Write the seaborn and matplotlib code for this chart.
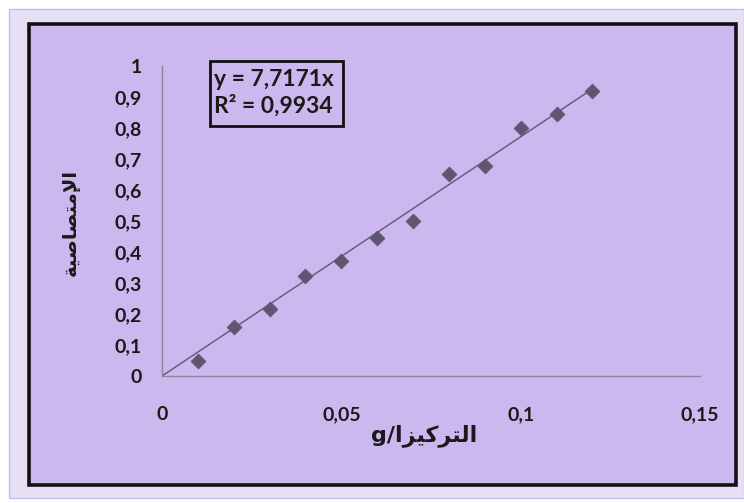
import matplotlib
matplotlib.use("Agg")
import matplotlib.pyplot as plt
from matplotlib.patches import Rectangle
import numpy as np
import pandas as pd
import seaborn as sns

# Concentration (g/l) and measured absorbance
concentration = [0.01, 0.02, 0.03, 0.04, 0.05, 0.06, 0.07, 0.08, 0.09, 0.10, 0.11, 0.12]
absorbance = [0.047, 0.158, 0.217, 0.322, 0.371, 0.445, 0.500, 0.652, 0.677, 0.800, 0.845, 0.918]

# Linear fit through the origin, as stated in the equation box
slope = 7.7171
r_squared = 0.9934

x_ticks = [0, 0.05, 0.10, 0.15]
x_tick_labels = ["0", "0,05", "0,1", "0,15"]
y_ticks = [0, 0.1, 0.2, 0.3, 0.4, 0.5, 0.6, 0.7, 0.8, 0.9, 1.0]
y_tick_labels = ["0", "0,1", "0,2", "0,3", "0,4", "0,5", "0,6", "0,7", "0,8", "0,9", "1"]

# Arabic labels written in visual order with presentation forms
x_label = "g/\uFE8D\uFEB0\uFEF4\uFEDB\uFEAE\uFE98\uFEDF\uFE8D"
y_label = "\uFE94\uFEF4\uFEBB\uFE8E\uFEBC\uFE98\uFEE3\uFEF9\uFE8D"

sns.set_theme(style="white")
plt.rcParams["font.family"] = ["Lato", "DejaVu Sans"]

W, H = 744, 503
fig = plt.figure(figsize=(W / 100, H / 100), dpi=100, facecolor="white")

# outer light frame
fig.patches.append(Rectangle((9 / W, 5 / H), (W - 9) / W, (H - 14) / H,
                             transform=fig.transFigure, facecolor="#E7DFF4",
                             edgecolor="#C9BCE3", linewidth=1.0, zorder=-3))
# chart area with black border
fig.patches.append(Rectangle((29 / W, 18 / H), (736 - 29) / W, (485 - 24) / H,
                             transform=fig.transFigure, facecolor="#CDB7EF",
                             edgecolor="#111111", linewidth=2.6, zorder=-2))

ax = fig.add_axes([162 / W, (H - 376) / H, (700 - 162) / W, 310 / H])
ax.set_facecolor("none")
ax.set_zorder(2)

df = pd.DataFrame({"c": concentration, "a": absorbance})
fit = pd.DataFrame({"c": [0.0, max(concentration)]})
fit["a"] = slope * fit["c"]

sns.lineplot(data=fit, x="c", y="a", ax=ax, color="#6A5C7E", linewidth=1.1, zorder=2)
sns.scatterplot(data=df, x="c", y="a", ax=ax, marker="D", s=58, color="#5E5670",
                edgecolor="#5E5670", linewidth=0.5, zorder=3, clip_on=False)

ax.set_xlim(0, 0.15)
ax.set_ylim(0, 1.0)
ax.set_xticks(x_ticks)
ax.set_xticklabels(x_tick_labels, fontsize=14, fontweight="bold")
ax.set_yticks(y_ticks)
ax.set_yticklabels(y_tick_labels, fontsize=14, fontweight="bold")

for s in ["top", "right"]:
    ax.spines[s].set_visible(False)
for s in ["left", "bottom"]:
    ax.spines[s].set_color("#8E84A0")
    ax.spines[s].set_linewidth(1.0)

ax.tick_params(axis="both", which="major", direction="out", length=4.5, width=1.0,
               color="#8E84A0", labelcolor="#1A1A1A")
ax.tick_params(axis="y", pad=10)
ax.tick_params(axis="x", pad=17)

ax.set_xlabel("")
ax.set_ylabel("")
fig.text(424 / W, 1 - 436 / H, x_label, ha="center", va="center", fontsize=16,
         fontweight="bold", color="#1A1A1A", family=["DejaVu Sans"])
fig.text(70 / W, 1 - 222 / H, y_label, ha="center", va="center", rotation=90,
         fontsize=14, fontweight="bold", color="#1A1A1A", family=["DejaVu Sans"])

# equation box
fig.patches.append(Rectangle((210 / W, 1 - 126 / H), (343 - 210) / W, (126 - 61) / H,
                             transform=fig.transFigure, facecolor="none",
                             edgecolor="#111111", linewidth=2.0, zorder=5))
eq1 = f"y = {slope:.4f}x".replace(".", ",")
eq2 = f"R\u00b2 = {r_squared:.4f}".replace(".", ",")
fig.text(214 / W, 1 - 79 / H, eq1, ha="left", va="center", fontsize=16.5,
         fontweight="bold", color="#1A1A1A")
fig.text(214 / W, 1 - 106 / H, eq2, ha="left", va="center", fontsize=16.5,
         fontweight="bold", color="#1A1A1A")

fig.savefig("out.png", dpi=100, facecolor="white")
